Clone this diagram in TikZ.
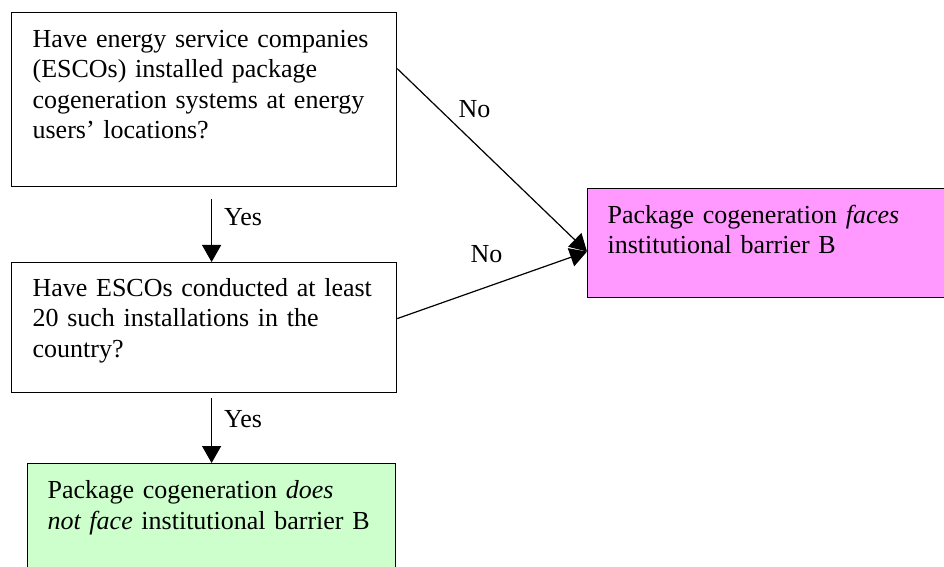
\documentclass[tikz,border=0pt]{standalone}
\usepackage{fontspec}
\setmainfont{Liberation Serif}
\usetikzlibrary{arrows.meta}

\definecolor{pinkfill}{HTML}{FF99FF}
\definecolor{greenfill}{HTML}{CCFFCC}

\begin{document}
\begin{tikzpicture}[
    x=0.5pt, y=-0.5pt,
    font=\fontsize{13}{15.2}\selectfont,
    >={Triangle[length=8.5pt, width=9.5pt]},
    box/.style={draw, line width=0.6pt, anchor=north west, align=left, inner ysep=0pt, inner xsep=10.5pt, text height=17.5pt},
    lbl/.style={inner sep=0pt, anchor=base west}
]
\clip (0,0) rectangle (944,567);

\node[box, text width=171.5pt, text depth=69.5pt] (q1) at (11,12)
    {Have energy service companies\\ (ESCOs) installed package\\ cogeneration systems at energy\\ users' locations?};
\node[box, text width=171.5pt, text height=17pt, text depth=48pt] (q2) at (11,262)
    {Have ESCOs conducted at least\\ 20 such installations in the\\ country?};
\node[box, fill=pinkfill, inner xsep=10pt, text width=166.5pt, text depth=37pt] (faces) at (587,188)
    {Package cogeneration \textit{faces}\\ institutional barrier B};
\node[box, fill=greenfill, inner xsep=10pt, text width=164pt, text depth=51pt] (nofaces) at (27,463)
    {Package cogeneration \textit{does}\\ \textit{not face} institutional barrier B};

% free ends of the connectors
\coordinate (y1) at ([xshift=3.75pt, yshift=-6pt]q1.south);
\coordinate (y2) at ([xshift=3.75pt, yshift=-2.5pt]q2.south);
\coordinate (n1) at ([yshift=15.5pt]q1.east);
\coordinate (n2) at ([yshift=4.5pt]q2.east);
\coordinate (hit) at ([yshift=-4.25pt]faces.west);

\draw[line width=0.6pt, ->] (y1) -- (y1 |- q2.north) node[lbl, pos=0.42, xshift=6pt] {Yes};
\draw[line width=0.6pt, ->] (y2) -- (y2 |- nofaces.north) node[lbl, pos=0.455, xshift=6pt] {Yes};
\draw[line width=0.6pt, ->] (n1) -- (hit) node[lbl, pos=0.268, xshift=5pt] {No};
\draw[line width=0.6pt, ->] (n2) -- (hit) node[lbl, pos=0.384, yshift=15pt] {No};
\end{tikzpicture}
\end{document}
